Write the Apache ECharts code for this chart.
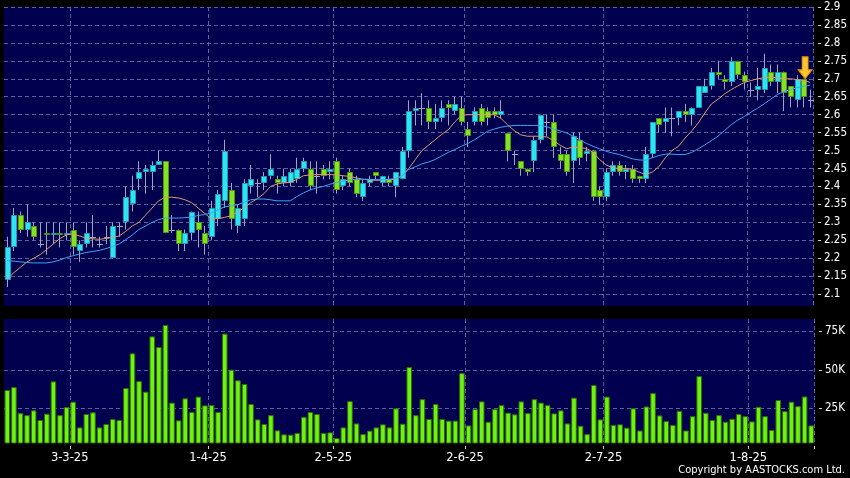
<!DOCTYPE html>
<html><head><meta charset="utf-8">
<script src="https://cdn.jsdelivr.net/npm/echarts@6/dist/echarts.min.js"></script>
<style>html,body{margin:0;padding:0;background:#000;}#c{width:850px;height:478px;}</style>
</head><body><div id="c"></div>
<script>
const dates = [
 '17-2-25','18-2-25','19-2-25','20-2-25','21-2-25','24-2-25','25-2-25','26-2-25','27-2-25','28-2-25',
 '3-3-25','4-3-25','5-3-25','6-3-25','7-3-25','10-3-25','11-3-25','12-3-25','13-3-25','14-3-25','17-3-25','18-3-25','19-3-25','20-3-25','21-3-25','24-3-25','25-3-25','26-3-25','27-3-25','28-3-25','31-3-25',
 '1-4-25','2-4-25','3-4-25','7-4-25','8-4-25','9-4-25','10-4-25','11-4-25','14-4-25','15-4-25','16-4-25','17-4-25','22-4-25','23-4-25','24-4-25','25-4-25','28-4-25','29-4-25','30-4-25',
 '2-5-25','6-5-25','7-5-25','8-5-25','9-5-25','12-5-25','13-5-25','14-5-25','15-5-25','16-5-25','19-5-25','20-5-25','21-5-25','22-5-25','23-5-25','26-5-25','27-5-25','28-5-25','29-5-25','30-5-25',
 '2-6-25','3-6-25','4-6-25','5-6-25','6-6-25','9-6-25','10-6-25','11-6-25','12-6-25','13-6-25','16-6-25','17-6-25','18-6-25','19-6-25','20-6-25','23-6-25','24-6-25','25-6-25','26-6-25','27-6-25','30-6-25',
 '2-7-25','3-7-25','4-7-25','7-7-25','8-7-25','9-7-25','10-7-25','11-7-25','14-7-25','15-7-25','16-7-25','17-7-25','18-7-25','21-7-25','22-7-25','23-7-25','24-7-25','25-7-25','28-7-25','29-7-25','30-7-25','31-7-25',
 '1-8-25','4-8-25','5-8-25','6-8-25','7-8-25','8-8-25','11-8-25','12-8-25','13-8-25','14-8-25'
];
const labelDates = ['3-3-25','1-4-25','2-5-25','2-6-25','2-7-25','1-8-25'];

const opens = [
 2.14,2.23,2.32,2.28,2.29,2.24,2.27,2.265,2.27,2.265,
 2.28,2.22,2.24,2.26,2.24,2.26,2.20,2.29,2.30,2.35,2.42,2.44,2.44,2.46,2.47,2.28,2.28,2.24,2.27,2.30,2.27,
 2.26,2.31,2.36,2.39,2.29,2.31,2.40,2.41,2.41,2.43,2.42,2.41,2.41,2.42,2.45,2.45,2.43,2.45,2.44,
 2.47,2.40,2.44,2.42,2.37,2.41,2.44,2.41,2.42,2.40,2.42,2.50,2.61,2.62,2.62,2.58,2.59,2.63,2.61,2.62,
 2.56,2.58,2.62,2.61,2.61,2.60,2.55,2.49,2.47,2.45,2.47,2.53,2.58,2.58,2.49,2.49,2.47,2.53,2.49,2.50,2.39,
 2.37,2.44,2.46,2.44,2.45,2.43,2.42,2.49,2.59,2.58,2.59,2.59,2.61,2.60,2.62,2.66,2.68,2.72,2.70,2.69,2.75,2.71,
 2.67,2.67,2.67,2.72,2.69,2.72,2.68,2.64,2.70,2.64
];
const closes = [
 2.23,2.32,2.28,2.30,2.26,2.24,2.265,2.27,2.265,2.27,
 2.23,2.24,2.27,2.26,2.24,2.26,2.29,2.29,2.37,2.39,2.44,2.45,2.46,2.47,2.27,2.28,2.24,2.27,2.33,2.28,2.24,
 2.34,2.38,2.50,2.31,2.34,2.41,2.42,2.41,2.43,2.45,2.41,2.43,2.44,2.45,2.47,2.40,2.43,2.43,2.45,
 2.39,2.42,2.41,2.38,2.41,2.42,2.43,2.43,2.41,2.44,2.50,2.61,2.62,2.62,2.58,2.59,2.62,2.62,2.63,2.58,
 2.54,2.61,2.58,2.59,2.60,2.61,2.50,2.49,2.45,2.44,2.53,2.60,2.58,2.51,2.47,2.44,2.54,2.48,2.50,2.37,2.37,
 2.44,2.46,2.44,2.45,2.42,2.42,2.49,2.58,2.57,2.59,2.59,2.61,2.60,2.62,2.68,2.68,2.72,2.71,2.69,2.75,2.71,2.69,
 2.67,2.68,2.73,2.69,2.72,2.66,2.65,2.70,2.65,2.64
];
const lows = [
 2.12,2.22,2.27,2.26,2.25,2.23,2.21,2.24,2.23,2.25,
 2.21,2.19,2.23,2.23,2.23,2.24,2.20,2.26,2.28,2.33,2.39,2.38,2.39,2.46,2.27,2.27,2.22,2.22,2.25,2.23,2.21,
 2.25,2.29,2.34,2.28,2.27,2.29,2.38,2.37,2.39,2.42,2.38,2.40,2.40,2.41,2.44,2.39,2.38,2.42,2.42,
 2.38,2.39,2.40,2.37,2.36,2.40,2.42,2.40,2.40,2.37,2.42,2.48,2.57,2.57,2.56,2.56,2.58,2.57,2.60,2.57,
 2.51,2.57,2.57,2.57,2.59,2.59,2.47,2.46,2.43,2.43,2.44,2.52,2.54,2.48,2.45,2.43,2.41,2.46,2.47,2.36,2.35,
 2.36,2.43,2.43,2.42,2.41,2.41,2.41,2.48,2.55,2.55,2.54,2.57,2.58,2.57,2.62,2.66,2.67,2.70,2.67,2.68,2.70,2.67,
 2.65,2.64,2.66,2.68,2.66,2.61,2.62,2.62,2.62,2.62
];
const highs = [
 2.26,2.34,2.33,2.35,2.30,2.30,2.30,2.30,2.30,2.30,
 2.30,2.25,2.30,2.32,2.26,2.29,2.30,2.30,2.40,2.43,2.47,2.46,2.47,2.50,2.47,2.32,2.28,2.28,2.33,2.33,2.29,
 2.36,2.39,2.53,2.41,2.35,2.42,2.46,2.42,2.44,2.49,2.43,2.45,2.45,2.48,2.48,2.47,2.47,2.46,2.47,
 2.48,2.43,2.45,2.43,2.42,2.43,2.44,2.43,2.43,2.44,2.51,2.64,2.64,2.66,2.64,2.63,2.64,2.64,2.65,2.65,
 2.58,2.62,2.63,2.62,2.62,2.64,2.55,2.50,2.47,2.45,2.54,2.60,2.60,2.60,2.51,2.50,2.55,2.55,2.51,2.50,2.40,
 2.45,2.47,2.47,2.46,2.46,2.43,2.51,2.58,2.59,2.62,2.62,2.61,2.63,2.62,2.68,2.70,2.73,2.75,2.71,2.76,2.75,2.72,
 2.69,2.73,2.77,2.74,2.74,2.72,2.68,2.71,2.70,2.67
];
const volumes = [
 36900,38800,21900,20600,23700,17400,21500,42500,20600,25800,
 29300,12600,21300,22400,12600,14800,18100,17400,38200,60700,42700,35800,71700,64800,79100,28700,17200,31500,22600,32600,26900,
 27100,22600,73500,50100,43200,40800,27800,17800,14800,20600,10700,8100,7900,9000,19400,22600,21300,9000,9400,
 5700,12600,29700,15200,8300,10500,12600,14600,12600,25000,15000,51800,20600,31000,18100,27800,18100,17000,17000,47900,
 13900,24500,29500,16300,24500,27100,22200,21100,29500,21900,31000,28700,27100,21700,23700,15200,31900,13700,8300,40100,17800,
 32600,14200,14600,12400,25000,10600,26200,34900,20400,16700,14200,23400,10600,19900,45900,22100,17400,20600,16300,18200,21300,19900,
 16500,26000,19900,10900,30400,23200,29300,26400,32700,13900
];
const ma10 = [
 2.142,2.16,2.175,2.19,2.20,2.21,2.225,2.24,2.255,2.265,
 2.268,2.262,2.256,2.254,2.253,2.255,2.258,2.262,2.275,2.29,2.30,2.32,2.34,2.36,2.37,2.37,2.368,2.363,2.355,2.34,2.325,
 2.31,2.31,2.314,2.318,2.33,2.34,2.355,2.366,2.38,2.40,2.407,2.41,2.411,2.42,2.43,2.432,2.433,2.433,2.433,
 2.433,2.43,2.428,2.424,2.42,2.418,2.417,2.418,2.419,2.42,2.43,2.45,2.475,2.50,2.515,2.53,2.545,2.558,2.58,2.598,
 2.60,2.60,2.60,2.60,2.60,2.59,2.572,2.556,2.544,2.54,2.54,2.54,2.538,2.528,2.515,2.505,2.51,2.508,2.506,2.495,2.475,
 2.46,2.452,2.45,2.45,2.448,2.44,2.433,2.44,2.455,2.48,2.50,2.512,2.535,2.555,2.577,2.605,2.63,2.643,2.658,2.67,2.68,2.69,
 2.695,2.70,2.703,2.705,2.703,2.70,2.70,2.698,2.695,2.69
];
const ma20 = [
 2.194,2.192,2.19,2.188,2.187,2.187,2.187,2.19,2.195,2.202,
 2.207,2.212,2.216,2.219,2.222,2.227,2.233,2.24,2.252,2.265,2.28,2.29,2.30,2.308,2.312,2.312,2.312,2.313,2.315,2.319,2.322,
 2.326,2.335,2.343,2.346,2.349,2.356,2.363,2.365,2.365,2.363,2.36,2.36,2.36,2.372,2.382,2.39,2.396,2.40,2.406,
 2.411,2.415,2.418,2.42,2.42,2.42,2.419,2.419,2.42,2.422,2.43,2.447,2.455,2.463,2.468,2.475,2.485,2.495,2.503,2.512,
 2.52,2.53,2.542,2.554,2.56,2.565,2.568,2.57,2.57,2.57,2.57,2.57,2.566,2.56,2.555,2.549,2.54,2.53,2.52,2.512,2.505,
 2.498,2.493,2.489,2.483,2.477,2.474,2.473,2.48,2.486,2.49,2.49,2.489,2.489,2.495,2.505,2.516,2.528,2.54,2.556,2.572,2.585,2.595,
 2.607,2.618,2.63,2.643,2.656,2.664,2.67,2.675,2.679,2.682
];
const priceTicks = [2.1,2.15,2.2,2.25,2.3,2.35,2.4,2.45,2.5,2.55,2.6,2.65,2.7,2.75,2.8,2.85,2.9];
const volumeTicks = [25000,50000,75000];
const arrowIndex = 121;

const labelSet = new Set(labelDates);
const isLabelDate = (i) => labelSet.has(dates[i]);
const candleData = dates.map((d, i) => [i, opens[i], closes[i], lows[i], highs[i]]);

const UP_FILL = '#2ee3f2', UP_STROKE = '#1a9fb2';
const DN_FILL = '#82e41e', DN_STROKE = '#4e9614';
const WICK = '#a4a4b8';
const GRID_LINE = { color: '#5e5e9e', type: [4, 3], width: 1 };
const PLOT_BG = '#00004e';

function renderCandle(params, api) {
  const i = api.value(0);
  const o = api.value(1), c = api.value(2), l = api.value(3), h = api.value(4);
  const pO = api.coord([i, o]), pC = api.coord([i, c]);
  const pL = api.coord([i, l]), pH = api.coord([i, h]);
  const bw = 6;
  const cx = Math.floor(pO[0]) + 0.5;
  const left = Math.floor(pO[0]) - 2;
  const top = Math.round(Math.min(pO[1], pC[1]));
  const bot = Math.round(Math.max(pO[1], pC[1]));
  const children = [{
    type: 'line',
    shape: { x1: cx, y1: pH[1], x2: cx, y2: pL[1] },
    style: { stroke: WICK, lineWidth: 1 }
  }];
  if (o === c) {
    children.push({ type: 'line', shape: { x1: left, y1: top + 0.5, x2: left + bw, y2: top + 0.5 },
      style: { stroke: WICK, lineWidth: 1 } });
  } else {
    const up = c > o;
    const hgt = Math.max(bot - top, 2);
    children.push({ type: 'rect', shape: { x: left + 0.5, y: top + 0.5, width: bw - 1, height: hgt - 1 },
      style: { fill: up ? UP_FILL : DN_FILL, stroke: up ? UP_STROKE : DN_STROKE, lineWidth: 1 } });
  }
  return { type: 'group', children };
}

const chart = echarts.init(document.getElementById('c'), null, { renderer: 'canvas' });
chart.setOption({
  backgroundColor: '#000000',
  animation: false,
  grid: [
    { left: 4, right: 35.5, top: 7, height: 299, show: true, backgroundColor: PLOT_BG, borderWidth: 0 },
    { left: 4, right: 35.5, top: 319, height: 124, show: true, backgroundColor: PLOT_BG, borderWidth: 0 }
  ],
  xAxis: [
    { type: 'category', gridIndex: 0, data: dates, boundaryGap: true,
      axisLine: { show: false }, axisTick: { show: false }, axisLabel: { show: false },
      splitLine: { show: true, interval: (i) => isLabelDate(i), lineStyle: GRID_LINE } },
    { type: 'category', gridIndex: 1, data: dates, boundaryGap: true, offset: 3,
      axisLine: { show: false },
      axisTick: { show: true, interval: (i) => isLabelDate(i), length: 3, lineStyle: { color: '#d0d0d0' } },
      axisLabel: { interval: (i) => isLabelDate(i), color: '#ffffff', fontFamily: 'DejaVu Sans', fontSize: 11.5,
        margin: 6, padding: [0, 7, 0, 0] },
      splitLine: { show: true, interval: (i) => isLabelDate(i), lineStyle: GRID_LINE } }
  ],
  yAxis: [
    { type: 'value', gridIndex: 0, position: 'right', min: 2.067, max: 2.9, minInterval: 0.05, maxInterval: 0.05,
      offset: 4.5, axisLine: { show: false },
      axisTick: { show: true, length: 3, customValues: priceTicks, lineStyle: { color: '#d0d0d0' } },
      axisLabel: { customValues: priceTicks, color: '#ffffff', margin: 6,
        fontFamily: '"DejaVu Sans Condensed", "DejaVu Sans"', fontSize: 11.5,
        formatter: (v) => String(Math.round(v * 100) / 100) },
      splitLine: { show: true, lineStyle: GRID_LINE } },
    { type: 'value', gridIndex: 1, position: 'right', min: 2470, max: 83000, minInterval: 25000, maxInterval: 25000,
      offset: 4.5, axisLine: { show: false },
      axisTick: { show: true, length: 3, customValues: volumeTicks, lineStyle: { color: '#d0d0d0' } },
      axisLabel: { customValues: volumeTicks, color: '#ffffff', margin: 6,
        fontFamily: '"DejaVu Sans Condensed", "DejaVu Sans"', fontSize: 11.5,
        formatter: (v) => (v / 1000) + 'K' },
      splitLine: { show: true, lineStyle: GRID_LINE } }
  ],
  series: [
    { type: 'custom', name: 'Price', xAxisIndex: 0, yAxisIndex: 0, data: candleData,
      encode: { x: 0, y: [1, 2, 3, 4] }, renderItem: renderCandle, clip: true },
    { type: 'line', name: 'MA10', xAxisIndex: 0, yAxisIndex: 0, data: ma10, showSymbol: false, symbol: 'none',
      lineStyle: { color: '#e09a6a', width: 1 }, z: 3,
      markPoint: {
        symbol: 'path://M4,0 L10,0 L10,13 L14,13 L7,22 L0,13 L4,13 Z',
        symbolSize: [14, 22], symbolKeepAspect: false, symbolOffset: [1.5, '-50%'],
        itemStyle: { color: '#f8c62a', borderColor: '#e0880a', borderWidth: 1 },
        label: { show: false },
        data: [{ coord: [arrowIndex, opens[arrowIndex]] }]
      } },
    { type: 'line', name: 'MA20', xAxisIndex: 0, yAxisIndex: 0, data: ma20, showSymbol: false, symbol: 'none',
      lineStyle: { color: '#3ea4f4', width: 1 }, z: 3 },
    { type: 'bar', name: 'Volume', xAxisIndex: 1, yAxisIndex: 1, data: volumes, barWidth: 5.6,
      itemStyle: { color: '#6ef20e', borderColor: '#2e6e08', borderWidth: 1 } }
  ],
  graphic: [
    { type: 'text', right: 5, bottom: 2,
      style: { text: 'Copyright by AASTOCKS.com Ltd.', fill: '#ffffff', fontSize: 11,
        fontFamily: '"DejaVu Sans Condensed", "DejaVu Sans"' } }
  ]
});
</script>
</body></html>
